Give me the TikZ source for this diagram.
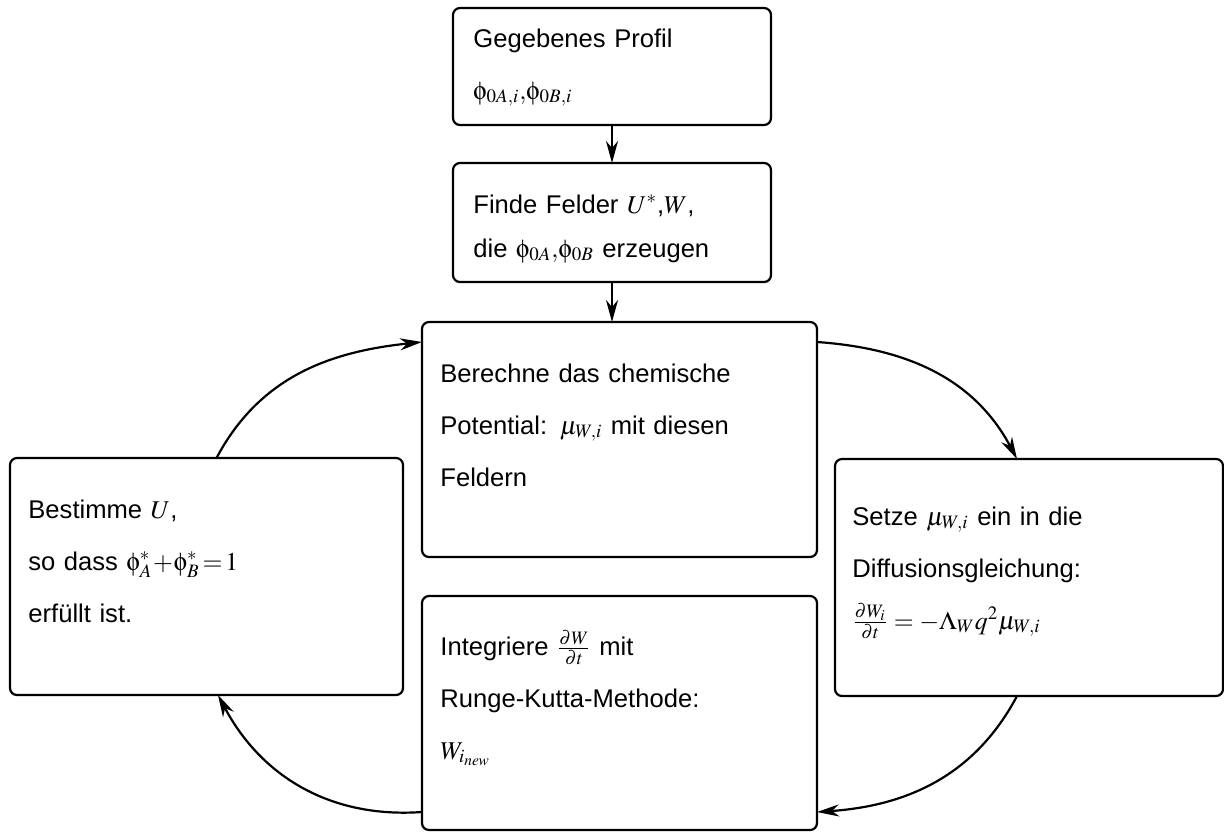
\documentclass[tikz,border=0pt]{standalone}
\usepackage{mathptmx}
\usepackage[Symbol]{upgreek}
\usepackage{fontspec}
\setmainfont{Liberation Sans}
\usetikzlibrary{arrows.meta}

\tikzset{
  box/.style={draw=black, line width=1.1pt, rounded corners=3.5pt, inner sep=0pt, outer sep=0pt, anchor=north west},
  boxtxt/.style={inner sep=0pt, anchor=base west, text width=185pt, align=left, font=\fontsize{12.8}{26}\selectfont},
  flow/.style={line width=1.1pt, -{Stealth[length=11pt, width=6pt, inset=3.5pt]}}
}

\begin{document}
\begin{tikzpicture}[x=0.5pt, y=-0.5pt]
			\useasboundingbox (0,0) rectangle (1224,832);
			% boxes
			\node[box, minimum width=159pt, minimum height=58.5pt](prof) at (453,8){};
			\node[box, minimum width=159pt, minimum height=59.5pt](feld) at (453,163){};
			\node[box, minimum width=197.5pt, minimum height=117.5pt](calc) at (422,322){};
			\node[box, minimum width=197.5pt, minimum height=117pt](integ) at (422,596){};
			\node[box, minimum width=196.5pt, minimum height=118.5pt](best) at (10,458){};
			\node[box, minimum width=194pt, minimum height=118.5pt](setz) at (835,459){};
			% texts
			\node[boxtxt](proftxt) at (473,47){Gegebenes Profil\\$\upphi_{0A,i}{,}\upphi_{0B,i}$};
			\node[boxtxt, font=\fontsize{12.8}{22}\selectfont](feldtxt) at (473,213){Finde Felder $U^*$,$W$,\\die $\upphi_{0A}{,}\upphi_{0B}$ erzeugen};
			\node[boxtxt](calctxt) at (440,382){Berechne das chemische\\Potential: $\mu_{W,i}$ mit diesen\\Feldern};
			\node[boxtxt](integtxt) at (440,655){Integriere $\frac{\partial W}{\partial t}$ mit\\Runge-Kutta-Methode:\\$W_{i_{new}}$};
			\node[boxtxt](besttxt) at (28,518){Bestimme $U$,\\so dass $\upphi^*_A\!+\!\upphi^*_B\!=\!1$\\erf\"ullt ist.};
			\node[boxtxt](setztxt) at (852,525){Setze $\mu_{W,i}$ ein in die\\Diffusionsgleichung:\\$\frac{\partial W_i}{\partial t} = -\Lambda_W q^2\mu_{W,i}$};
			% connectors
			\draw[flow] (prof.south) -- (feld.north);
			\draw[flow] (feld.south) -- (feld.south |- calc.north);
			\draw[flow] ([xshift=5pt]best.north) to[out=62, in=186] ([yshift=-10pt]calc.north west);
			\draw[flow] ([yshift=-10pt]calc.north east) to[out=-4, in=118] ([xshift=-6pt]setz.north);
			\draw[flow] ([xshift=-6pt]setz.south) to[out=-118, in=4] ([yshift=9pt]integ.south east);
			\draw[flow] ([yshift=9pt]integ.south west) to[out=184, in=-62] ([xshift=5.75pt]best.south);
			\end{tikzpicture}
\end{document}
